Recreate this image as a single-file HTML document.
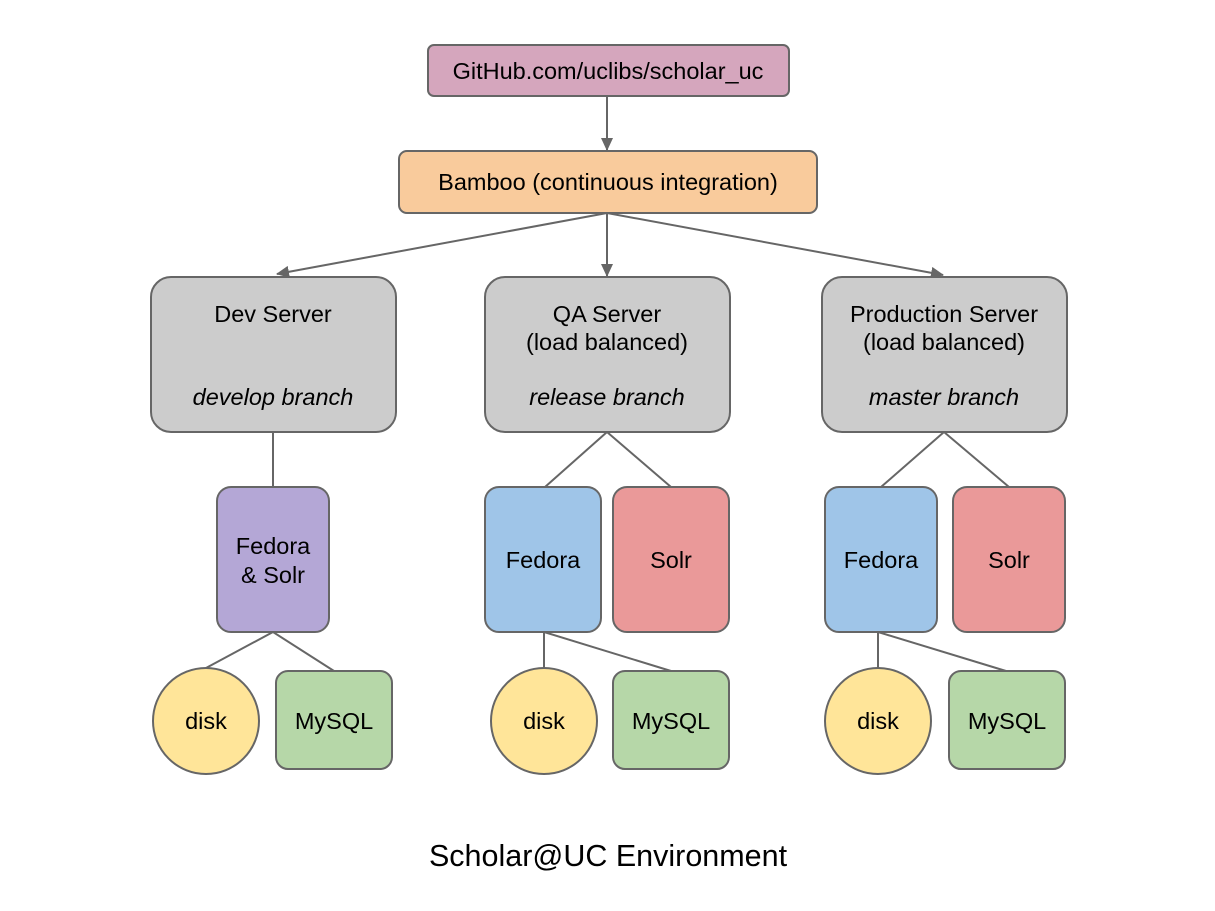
<!DOCTYPE html>
<html><head><meta charset="utf-8"><style>
html,body{margin:0;padding:0;background:#fff;}
svg{display:block;}
text{font-family:"Liberation Sans",Arial,sans-serif;font-size:23.5px;fill:#000;}
</style></head><body>
<svg width="1215" height="911" viewBox="0 0 1215 911" xmlns="http://www.w3.org/2000/svg">
<defs>
<marker id="a" markerWidth="14" markerHeight="12" refX="12" refY="6" orient="auto" markerUnits="userSpaceOnUse">
<path d="M0,0 L13,6 L0,12 z" fill="#666"/>
</marker>
</defs>
<g stroke="#666" stroke-width="2" fill="none">
<line x1="607" y1="96" x2="607" y2="150" marker-end="url(#a)"/>
<line x1="607" y1="213" x2="277" y2="274" marker-end="url(#a)"/>
<line x1="607" y1="213" x2="607" y2="276" marker-end="url(#a)"/>
<line x1="607" y1="213" x2="943" y2="275" marker-end="url(#a)"/>
<line x1="273" y1="432" x2="273" y2="487"/>
<line x1="607" y1="432" x2="545" y2="487"/>
<line x1="607" y1="432" x2="671" y2="487"/>
<line x1="944" y1="432" x2="881" y2="487"/>
<line x1="944" y1="432" x2="1009" y2="487"/>
<line x1="273" y1="632" x2="206" y2="668"/>
<line x1="273" y1="632" x2="334" y2="671"/>
<line x1="544" y1="632" x2="544" y2="668"/>
<line x1="544" y1="632" x2="671" y2="671"/>
<line x1="878" y1="632" x2="878" y2="668"/>
<line x1="878" y1="632" x2="1006" y2="671"/>
</g>
<g stroke="#666" stroke-width="2">
<rect x="428" y="45" width="361" height="51" rx="6" fill="#d5a6bd"/>
<rect x="399" y="151" width="418" height="62" rx="8" fill="#f9cb9c"/>
<rect x="151" y="277" width="245" height="155" rx="20" fill="#cccccc"/>
<rect x="485" y="277" width="245" height="155" rx="20" fill="#cccccc"/>
<rect x="822" y="277" width="245" height="155" rx="20" fill="#cccccc"/>
<rect x="217" y="487" width="112" height="145" rx="14" fill="#b4a7d6"/>
<rect x="485" y="487" width="116" height="145" rx="14" fill="#9fc5e8"/>
<rect x="613" y="487" width="116" height="145" rx="14" fill="#ea9999"/>
<rect x="825" y="487" width="112" height="145" rx="14" fill="#9fc5e8"/>
<rect x="953" y="487" width="112" height="145" rx="14" fill="#ea9999"/>
<circle cx="206" cy="721" r="53" fill="#ffe599"/>
<circle cx="544" cy="721" r="53" fill="#ffe599"/>
<circle cx="878" cy="721" r="53" fill="#ffe599"/>
<rect x="276" y="671" width="116" height="98" rx="12" fill="#b6d7a8"/>
<rect x="613" y="671" width="116" height="98" rx="12" fill="#b6d7a8"/>
<rect x="949" y="671" width="116" height="98" rx="12" fill="#b6d7a8"/>
</g>
<g text-anchor="middle">
<text x="608" y="79">GitHub.com/uclibs/scholar_uc</text>
<text x="608" y="190">Bamboo (continuous integration)</text>
<text x="273" y="322">Dev Server</text>
<text x="273" y="405" font-style="italic">develop branch</text>
<text x="607" y="322">QA Server</text>
<text x="607" y="350">(load balanced)</text>
<text x="607" y="405" font-style="italic">release branch</text>
<text x="944" y="322">Production Server</text>
<text x="944" y="350">(load balanced)</text>
<text x="944" y="405" font-style="italic">master branch</text>
<text x="273" y="554">Fedora</text>
<text x="273" y="583">&amp; Solr</text>
<text x="543" y="568">Fedora</text>
<text x="671" y="568">Solr</text>
<text x="881" y="568">Fedora</text>
<text x="1009" y="568">Solr</text>
<text x="206" y="729">disk</text>
<text x="544" y="729">disk</text>
<text x="878" y="729">disk</text>
<text x="334" y="729">MySQL</text>
<text x="671" y="729">MySQL</text>
<text x="1007" y="729">MySQL</text>
<text x="608" y="866" style="font-size:30.5px">Scholar@UC Environment</text>
</g>
</svg>
</body></html>
